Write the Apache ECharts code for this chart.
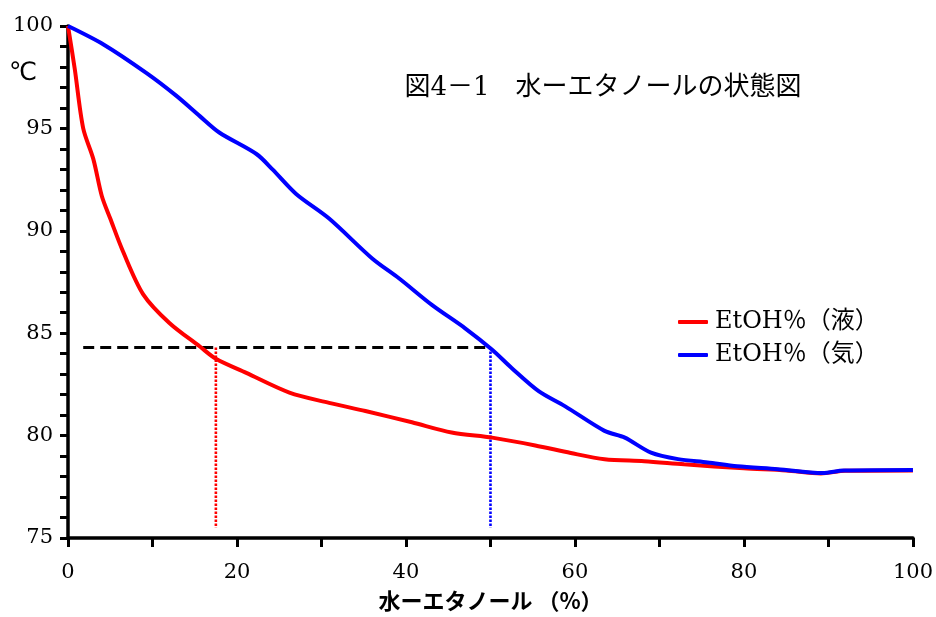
<!DOCTYPE html>
<html>
<head>
<meta charset="utf-8">
<script src="https://cdn.jsdelivr.net/npm/echarts@6/dist/echarts.min.js"></script>
<style>html,body{margin:0;padding:0;background:#fff}#c{width:936px;height:617px}</style>
</head>
<body>
<div id="c"></div>
<script>
// EtOH% in liquid (red)
const liquidX = [0, 0.8, 1.8, 3.0, 4.0, 5.0, 6.5, 8.9, 12.0, 15.6, 17.5, 21.1, 26.2, 30.9, 35.2, 40.7, 45.4, 50.2, 55.3, 59.5, 63.5, 68.2, 72.9, 80.0, 85.0, 89.1, 92.0, 100];
const liquidT = [100, 97.9, 95.0, 93.5, 91.7, 90.6, 89.0, 86.9, 85.5, 84.35, 83.75, 83.06, 82.1, 81.6, 81.2, 80.65, 80.15, 79.9, 79.52, 79.15, 78.85, 78.75, 78.6, 78.4, 78.3, 78.15, 78.28, 78.3];
// EtOH% in vapour (blue)
const vaporX = [0, 4.2, 9.3, 12.8, 15.6, 17.9, 22.3, 24.2, 27.0, 30.9, 36.0, 39.2, 43.1, 47.0, 50.2, 52.5, 55.7, 58.8, 63.5, 65.9, 69.0, 72.2, 75.7, 79.2, 84.0, 89.3, 91.8, 100];
const vaporT = [100, 99.1, 97.7, 96.6, 95.6, 94.8, 93.75, 93.0, 91.8, 90.6, 88.65, 87.67, 86.37, 85.24, 84.19, 83.3, 82.17, 81.44, 80.23, 79.9, 79.17, 78.85, 78.69, 78.5, 78.36, 78.17, 78.29, 78.32];
// guide lines
const guideLevel = 84.3;
const guideStartX = 1.8;
const liquidCrossX = 17.5;
const vaporCrossX = 50;
const guideBottom = 75.5;

const seriesNames = ['EtOH％（液）', 'EtOH％（気）'];
const titleText = '図4－1　水ーエタノールの状態図';
const xName = '水ーエタノール （%）';
const yUnit = '℃';

const serif = "'DejaVu Serif', 'Noto Sans CJK JP'";
const zip = (xs, ys) => xs.map((x, i) => [x, ys[i]]);

const chart = echarts.init(document.getElementById('c'), null, {renderer: 'canvas'});
chart.setOption({
  animation: false,
  backgroundColor: '#ffffff',
  grid: {left: 68, right: 20, top: 26, bottom: 76, containLabel: false},
  legend: {
    data: seriesNames,
    orient: 'vertical',
    left: 673,
    top: 305,
    itemWidth: 30,
    itemHeight: 4,
    itemGap: 9,
    icon: 'roundRect',
    textStyle: {fontFamily: serif, fontSize: 24, color: '#000', lineHeight: 24, padding: [0, 0, 0, 2]}
  },
  xAxis: {
    type: 'value', min: 0, max: 100, interval: 20,
    name: xName, nameLocation: 'middle', nameGap: 52,
    nameTextStyle: {fontFamily: "'Noto Sans CJK JP'", fontWeight: 'bold', fontSize: 22, color: '#000'},
    axisLine: {lineStyle: {color: '#000', width: 3.5}},
    axisTick: {show: true, length: 9, lineStyle: {color: '#000', width: 3}},
    minorTick: {show: true, splitNumber: 2, length: 9, lineStyle: {color: '#000', width: 3}},
    axisLabel: {fontFamily: serif, fontSize: 21, color: '#000', margin: 24},
    splitLine: {show: false}
  },
  yAxis: {
    type: 'value', min: 75, max: 100, interval: 5,
    axisLine: {show: true, lineStyle: {color: '#000', width: 3.5}},
    axisTick: {show: true, length: 8, lineStyle: {color: '#000', width: 3}},
    minorTick: {show: true, splitNumber: 5, length: 8, lineStyle: {color: '#000', width: 3}},
    axisLabel: {fontFamily: serif, fontSize: 21, color: '#000', margin: 15},
    splitLine: {show: false}
  },
  graphic: [
    {type: 'text', x: 603, y: 88, style: {text: titleText, font: "26px 'DejaVu Serif', 'Noto Sans CJK JP'", fill: '#000', align: 'center', verticalAlign: 'middle'}},
    {type: 'text', x: 23, y: 73, style: {text: yUnit, font: "25px 'DejaVu Sans', 'Noto Sans CJK JP'", fill: '#000', align: 'center', verticalAlign: 'middle'}}
  ],
  series: [
    {name: 'guideH', type: 'line', data: [[guideStartX, guideLevel], [vaporCrossX, guideLevel]], symbol: 'none', silent: true, z: 1,
     lineStyle: {color: '#000', width: 3, type: [11, 6]}},
    {name: 'guideL', type: 'line', data: [[liquidCrossX, guideLevel], [liquidCrossX, guideBottom]], symbol: 'none', silent: true, z: 1,
     lineStyle: {color: '#ff0000', width: 2.6, type: [2.5, 1.5]}},
    {name: 'guideV', type: 'line', data: [[vaporCrossX, guideLevel], [vaporCrossX, guideBottom]], symbol: 'none', silent: true, z: 1,
     lineStyle: {color: '#0000ff', width: 2.6, type: [2.5, 1.5]}},
    {name: seriesNames[0], type: 'line', data: zip(liquidX, liquidT), symbol: 'none', smooth: 0.3, z: 3,
     itemStyle: {color: '#ff0000'}, lineStyle: {color: '#ff0000', width: 4}},
    {name: seriesNames[1], type: 'line', data: zip(vaporX, vaporT), symbol: 'none', smooth: 0.3, z: 4,
     itemStyle: {color: '#0000ff'}, lineStyle: {color: '#0000ff', width: 4}}
  ]
});
</script>
</body>
</html>
